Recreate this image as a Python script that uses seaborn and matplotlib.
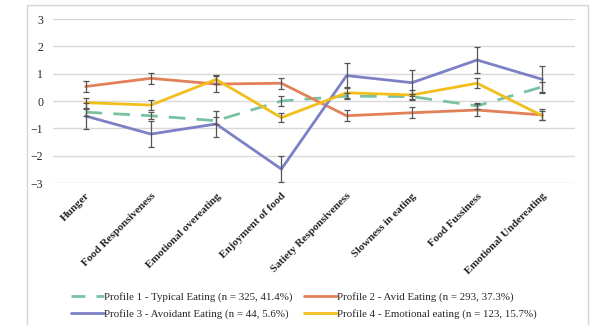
import matplotlib
matplotlib.use("Agg")
import matplotlib.pyplot as plt
from matplotlib.patches import Rectangle
from matplotlib.lines import Line2D
import seaborn as sns
import pandas as pd

categories = ["Hunger", "Food Responsiveness", "Emotional overeating", "Enjoyment of food",
              "Satiety Responsiveness", "Slowness in eating", "Food Fussiness",
              "Emotional Undereating"]

profile_names = [
    "Profile 1 - Typical Eating (n = 325, 41.4%)",
    "Profile 2 - Avid Eating (n = 293, 37.3%)",
    "Profile 3 - Avoidant Eating (n = 44, 5.6%)",
    "Profile 4 - Emotional eating (n = 123, 15.7%)",
]

typical = [-0.41, -0.54, -0.72, 0.00, 0.18, 0.16, -0.18, 0.52]
typical_err = [0.13, 0.13, 0.13, 0.17, 0.10, 0.10, 0.12, 0.18]

avid = [0.53, 0.83, 0.62, 0.65, -0.54, -0.43, -0.33, -0.51]
avid_err = [0.21, 0.21, 0.28, 0.20, 0.20, 0.20, 0.22, 0.20]

avoidant = [-0.55, -1.21, -0.84, -2.49, 0.93, 0.67, 1.50, 0.79]
avoidant_err = [0.49, 0.47, 0.46, 0.48, 0.47, 0.48, 0.48, 0.48]

emotional = [-0.06, -0.15, 0.79, -0.61, 0.30, 0.22, 0.65, -0.54]
emotional_err = [0.18, 0.18, 0.17, 0.17, 0.20, 0.18, 0.18, 0.16]

colors = ["#79c2a1", "#e2805a", "#7c80c4", "#f2be1c"]

series = [typical, avid, avoidant, emotional]
errors = [typical_err, avid_err, avoidant_err, emotional_err]

rows = []
for name, vals in zip(profile_names, series):
    for i, v in enumerate(vals):
        rows.append({"pos": i, "score": v, "profile": name})
df = pd.DataFrame(rows)

sns.set_theme(style="white")
plt.rcParams["font.family"] = ["Liberation Serif", "DejaVu Serif"]

fig = plt.figure(figsize=(6.08, 3.25), dpi=100)
ax = fig.add_axes([53 / 608, 1 - 183 / 325, 522 / 608, 164 / 325])

# outer frame around the chart
fig.patches.append(Rectangle((27 / 608, -0.1), 561 / 608, 1.1 - 5 / 325,
                             transform=fig.transFigure, fill=False,
                             edgecolor="#d4d4d4", linewidth=1.0))

ax.set_ylim(-3, 3)
ax.set_xlim(-0.5, len(categories) - 0.5)
ax.set_yticks(range(-3, 4))
ax.yaxis.grid(True, color="#d9d9d9", linewidth=1.0)
ax.set_axisbelow(True)

sns.lineplot(data=df, x="pos", y="score", hue="profile", hue_order=profile_names,
             palette=colors, linewidth=2.0, ax=ax, legend=False, zorder=3)
ax.lines[0].set_dashes([6, 4])

for vals, errs in zip(series, errors):
    ax.errorbar(range(len(vals)), vals, yerr=errs, fmt="none", ecolor="#555555",
                elinewidth=0.9, capsize=2.5, capthick=0.9, zorder=4)

ax.set_xticks(range(len(categories)))
ax.set_xticklabels(categories, rotation=45, ha="right", rotation_mode="anchor",
                   fontweight="bold", fontsize=8)
ax.tick_params(axis="x", length=0, pad=6)
ax.tick_params(axis="y", length=0, pad=7, labelsize=8.5)
for s in ax.spines.values():
    s.set_visible(False)
ax.set_xlabel("")
ax.set_ylabel("")

handles = []
for i, c in enumerate(colors):
    h = Line2D([0], [0], color=c, linewidth=2.0)
    if i == 0:
        h.set_dashes([5, 4])
    handles.append(h)
# legend fills column by column: put profiles 1/2 on the first row, 3/4 on the second
order = [0, 2, 1, 3]
fig.legend([handles[i] for i in order], [profile_names[i] for i in order],
           loc="lower center", bbox_to_anchor=(0.5, -0.012),
           ncol=2, frameon=False, fontsize=7.8, handlelength=3.0, handletextpad=0.05,
           columnspacing=1.1, labelspacing=0.7)

fig.savefig("out.png", dpi=100)
